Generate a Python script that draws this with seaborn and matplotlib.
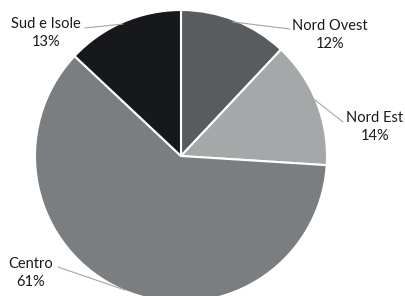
import matplotlib.pyplot as plt
import seaborn as sns
import numpy as np

# data
regions = ['Nord Ovest', 'Nord Est', 'Centro', 'Sud e Isole']
shares = [12, 14, 61, 13]
colors = ['#595c5e', '#a5a8a9', '#7b7e80', '#16181b']

# label layout (pixel positions in the 405x296 image)
text_pos = [(330, 35), (375, 127), (31, 273), (46, 33)]
line_start = [(233, 22), (315, 100), (125, 290), (123, 24)]
line_end = [(290, 29), (343, 122), (58, 267), (85, 28)]

sns.set_style('white')
plt.rcParams['font.family'] = ['Lato', 'DejaVu Sans']

W, H = 405, 296
cx, cy, r = 181, 156, 146

fig = plt.figure(figsize=(W / 100, H / 100), dpi=100)
ax = fig.add_axes([(cx - r) / W, (H - cy - r) / H, 2 * r / W, 2 * r / H])

ax.pie(shares, colors=colors, startangle=90, counterclock=False,
       wedgeprops=dict(edgecolor='white', linewidth=1.5))
ax.set_xlim(-1, 1)
ax.set_ylim(-1, 1)
ax.set_aspect('equal')
ax.axis('off')


def to_data(p):
    return (p[0] - cx) / r, (cy - p[1]) / r


for name, val, tp, ls, le in zip(regions, shares, text_pos, line_start, line_end):
    x0, y0 = to_data(ls)
    x1, y1 = to_data(le)
    ax.plot([x0, x1], [y0, y1], color='#a6a6a6', lw=0.8, clip_on=False)
    tx, ty = to_data(tp)
    ax.text(tx, ty, f'{name}\n{val}%', ha='center', va='center',
            fontsize=10.5, color='#1a1a1a', linespacing=1.45, clip_on=False)

fig.savefig('out.png', dpi=100)
